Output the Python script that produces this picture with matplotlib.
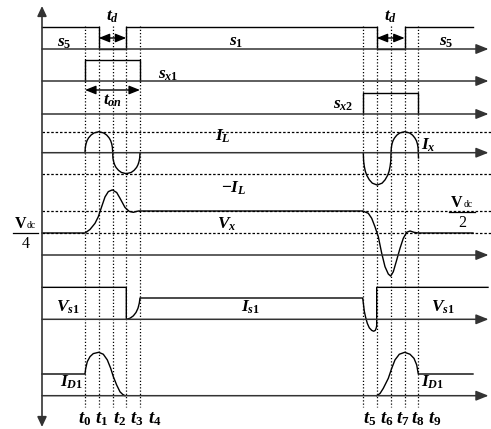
import matplotlib.pyplot as plt

plt.rcParams['mathtext.fontset'] = 'custom'
plt.rcParams['mathtext.it'] = 'Liberation Serif:italic:bold'
plt.rcParams['mathtext.rm'] = 'Liberation Serif:bold'
plt.rcParams['mathtext.bf'] = 'Liberation Serif:bold'

# time instants t0..t9 (diagram x units) and where their labels sit
t_marks = [85, 98.7, 112.7, 126.3, 140, 363.3, 376.7, 390.7, 404.7, 418.3]
t_names = ['0', '1', '2', '3', '4', '5', '6', '7', '8', '9']
t_label_x = [85, 101.5, 120, 136.5, 155, 370, 386.5, 402.5, 418, 435]

# row baselines (y) and pixel size of one unit in each row
rows = {'s1': (49, 22), 'sx1': (81, 21), 'sx2': (114, 21.3), 'ix': (152.7, 21),
        'vx': (255, 88), 'vs1': (319.3, 21.3), 'id1': (395.7, 21.7)}

# gate signals (1 = on)
s1_x = [42, 98.7, 98.7, 126.3, 126.3, 376.7, 376.7, 404.7, 404.7, 473]
s1_y = [1, 1, 0, 0, 1, 1, 0, 0, 1, 1]
sx1_x = [85, 85, 140, 140]
sx1_y = [0, 1, 1, 0]
sx2_x = [363.3, 363.3, 418.3, 418.3]
sx2_y = [0, 1, 1, 0]

# auxiliary current Ix, in units of I_L
ix_left_x = [85, 85.3, 86, 87, 88.5, 91, 94, 98.85, 103.7, 106.7, 109.2, 110.7, 111.7, 112.4, 112.7,
             112.9, 113.6, 114.6, 116.0, 118.5, 121.4, 126.3, 131.2, 134.1, 136.6, 138.0, 139.0, 139.7, 140]
ix_left_y = [0, 0.25, 0.42, 0.57, 0.70, 0.84, 0.94, 1.0, 0.94, 0.84, 0.70, 0.57, 0.42, 0.25, 0,
             -0.25, -0.42, -0.57, -0.70, -0.84, -0.94, -1.0, -0.94, -0.84, -0.70, -0.57, -0.42, -0.25, 0]
ix_right_x = [363.3, 363.6, 364.3, 365.3, 366.8, 369.3, 372.3, 377.2, 382.1, 385.1, 387.6, 389.1,
              390.1, 390.8, 391.0, 391.35, 392.0, 393.0, 394.5, 396.9, 399.8, 404.7, 409.6, 412.5,
              414.9, 416.4, 417.4, 418.05, 418.3, 418.5]
ix_right_y = [0, -0.39, -0.65, -0.88, -1.08, -1.29, -1.45, -1.54, -1.45, -1.29, -1.08, -0.88,
              -0.65, -0.39, 0, 0.25, 0.42, 0.57, 0.70, 0.84, 0.94, 1.0, 0.94, 0.84,
              0.70, 0.57, 0.42, 0.25, 0, -0.25]

# auxiliary node voltage Vx, in units of Vdc
vx_x = [42, 85, 90, 95, 98.3, 101.7, 105, 108.3, 112.3, 116.7, 120, 125, 129.3, 133.3, 138.3,
        362.7, 368.3, 371.7, 375, 378.3, 381.7, 385, 388.3, 390.7, 393.3, 396.7, 400, 403.3,
        406.7, 410, 414, 418.3, 473]
vx_y = [0.25, 0.25, 0.29, 0.36, 0.435, 0.55, 0.66, 0.72, 0.74, 0.71, 0.645, 0.54, 0.495, 0.485, 0.5,
        0.5, 0.474, 0.417, 0.32, 0.208, 0.02, -0.133, -0.216, -0.24, -0.19, -0.057, 0.076, 0.19,
        0.258, 0.273, 0.258, 0.25, 0.25]

# main switch voltage / current, in units of Is1
vs1_x = [42, 126.3, 126.3, 130, 133.3, 136, 138, 139.3, 140, 362.7, 363.3, 364.3, 365.7, 367.3,
         369.3, 371.7, 373.7, 375.3, 376.3, 376.7, 376.7, 488]
vs1_y = [1.5, 1.5, 0, 0.05, 0.16, 0.32, 0.52, 0.76, 1.0, 1.0, 0.77, 0.38, 0.08, -0.19,
         -0.4, -0.52, -0.56, -0.52, -0.4, -0.3, 1.5, 1.5]

# diode current, in units of I_D1
id1_left_x = [42, 85, 85.7, 87.3, 90, 93.3, 98.7, 103.3, 107.3, 110.7, 113.3, 116.7, 120, 122.7, 125]
id1_left_y = [1, 1, 1.26, 1.57, 1.8, 1.94, 2.0, 1.91, 1.65, 1.26, 0.88, 0.49, 0.18, 0.06, 0]
id1_right_x = [376.7, 380, 383.3, 388.3, 391.7, 395, 399.3, 404.7, 410, 414, 416.7, 418.3, 473]
id1_right_y = [0, 0.1, 0.34, 0.8, 1.26, 1.65, 1.91, 2.0, 1.91, 1.72, 1.42, 1.0, 1.0]


def to_y(row, vals):
    base, scale = rows[row]
    return [base - scale * v for v in vals]


fig = plt.figure(figsize=(4.91, 4.29), dpi=100)
ax = fig.add_axes([0, 0, 1, 1])
ax.set_xlim(0, 491)
ax.set_ylim(429, 0)
ax.axis('off')

LW = 1.0
dot = (0, (1, 1.6))

# vertical dotted time markers
for t in t_marks:
    ax.plot([t, t], [26, 407], color='k', lw=0.9, ls=dot)

# horizontal reference levels
for lvl in (1, -1):
    y = to_y('ix', [lvl])[0]
    ax.plot([42, 491], [y, y], color='k', lw=0.9, ls=(0, (2, 1.5)))
for lvl in (0.5, 0.25):
    y = to_y('vx', [lvl])[0]
    ax.plot([42, 491], [y, y], color='k', lw=0.9, ls=(0, (2, 1.5)))

# vertical axis with two heads
ax.annotate('', xy=(42, 6), xytext=(42, 427),
            arrowprops=dict(arrowstyle='<|-|>,head_length=0.6,head_width=0.28',
                            lw=1.2, color='#333', shrinkA=0, shrinkB=0, mutation_scale=10))

# baselines with arrows
for r in rows:
    y = rows[r][0]
    ax.annotate('', xy=(488.5, y), xytext=(42, y),
                arrowprops=dict(arrowstyle='-|>,head_length=0.75,head_width=0.3',
                                lw=1.1, color='#333', shrinkA=0, shrinkB=0, mutation_scale=10))

# waveforms
ax.plot(s1_x, to_y('s1', s1_y), color='k', lw=LW)
ax.plot(sx1_x, to_y('sx1', sx1_y), color='k', lw=LW)
ax.plot(sx2_x, to_y('sx2', sx2_y), color='k', lw=LW)
ax.plot(ix_left_x, to_y('ix', ix_left_y), color='k', lw=LW)
ax.plot(ix_right_x, to_y('ix', ix_right_y), color='k', lw=LW)
ax.plot(vx_x, to_y('vx', vx_y), color='k', lw=LW)
ax.plot(vs1_x, to_y('vs1', vs1_y), color='k', lw=LW)
ax.plot(id1_left_x, to_y('id1', id1_left_y), color='k', lw=LW)
ax.plot(id1_right_x, to_y('id1', id1_right_y), color='k', lw=LW)

# interval arrows
dbl = dict(arrowstyle='<|-|>,head_length=0.65,head_width=0.26', lw=1.0, color='k',
           shrinkA=0, shrinkB=0, mutation_scale=10)
ax.annotate('', xy=(t_marks[1], 38), xytext=(t_marks[3], 38), arrowprops=dbl)
ax.annotate('', xy=(t_marks[6], 38), xytext=(t_marks[8], 38), arrowprops=dbl)
ax.annotate('', xy=(t_marks[0], 90), xytext=(t_marks[4], 90), arrowprops=dbl)

# labels
fs = 12.5
labels = [
    (113, 16, r'$t_d$'), (391, 16, r'$t_d$'),
    (64, 42, r'$s_5$'), (236, 41, r'$s_1$'), (446, 41, r'$s_5$'),
    (168, 74, r'$s_{x1}$'), (113, 100, r'$t_{on}$'), (343, 104, r'$s_{x2}$'),
    (223, 136, r'$I_L$'), (234, 188, r'$-I_L$'), (428, 145, r'$I_x$'),
    (227, 224, r'$V_x$'),
    (68, 307, r'$V_{s1}$'), (251, 307, r'$I_{s1}$'), (443, 307, r'$V_{s1}$'),
    (72, 382, r'$I_{D1}$'), (433, 382, r'$I_{D1}$'),
]
for x, y, s in labels:
    ax.text(x, y, s, ha='center', va='center', fontsize=fs)

for x, n in zip(t_label_x, t_names):
    ax.text(x, 418, r'$t_{%s}$' % n, ha='center', va='center', fontsize=13.5)

# Vdc fractions
for xc, yline, den in [(25.5, 233, '4'), (462, 211.7, '2')]:
    ax.text(xc - 5, yline - 8.5, 'V', ha='center', va='center', fontsize=11.5,
            family='Liberation Serif', fontweight='bold')
    ax.text(xc + 6, yline - 7.5, 'dc', ha='center', va='center', fontsize=7,
            family='Liberation Serif')
    ax.plot([xc - 12.8, xc + 12.8], [yline, yline], color='k', lw=0.9)
    ax.text(xc, yline + 11.5, den, ha='center', va='center', fontsize=11.5,
            family='Liberation Serif')

fig.savefig('out.png', dpi=100)
